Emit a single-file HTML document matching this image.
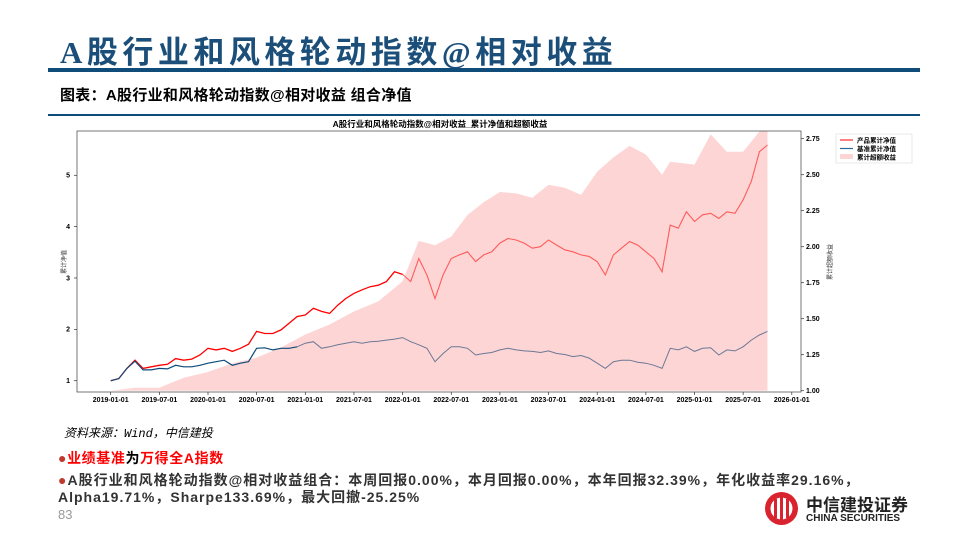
<!DOCTYPE html>
<html><head><meta charset="utf-8">
<style>
body{margin:0;background:#fff;}
#page{position:relative;width:960px;height:540px;overflow:hidden;background:#fff;font-family:"Liberation Sans","Noto Sans CJK SC",sans-serif;}
.abs{position:absolute;white-space:nowrap;}
</style></head>
<body>
<div id="page">
  <div class="abs" style="left:60px;top:27px;font-size:31px;color:#1b4f7a;font-family:'Liberation Serif','Noto Sans CJK SC',sans-serif;font-weight:bold;letter-spacing:4.5px;">A股行业和风格轮动指数@相对收益</div>
  <div class="abs" style="left:48px;top:68px;width:872px;height:4px;background:#0f4c7a;"></div>
  <div class="abs" style="left:60px;top:84px;font-size:15px;font-weight:bold;color:#000;letter-spacing:0.3px;font-family:'Liberation Sans','Noto Sans CJK SC',sans-serif;">图表：A股行业和风格轮动指数@相对收益 组合净值</div>
  <div class="abs" style="left:48px;top:114px;width:872px;height:2px;background:#0f4c7a;"></div>

  <svg class="abs" style="left:0;top:0" width="960" height="540">
    <defs><clipPath id="plotclip"><rect x="77" y="131" width="724" height="261"/></clipPath></defs>
    <text x="440" y="127" text-anchor="middle" font-size="8.5" font-weight="bold" font-family="Liberation Sans, Noto Sans CJK SC, sans-serif">A股行业和风格轮动指数@相对收益_累计净值和超额收益</text>
    <g id="fillg" clip-path="url(#plotclip)"></g>
    <g id="lineg" clip-path="url(#plotclip)"></g>
    <rect x="77" y="131" width="724" height="261" fill="none" stroke="#555" stroke-width="0.8"/>
    <g id="axes" font-family="Liberation Sans, sans-serif" font-size="7" font-weight="bold"></g>
    <text transform="translate(66,262) rotate(-90)" font-size="6" text-anchor="middle" fill="#333" font-family="Liberation Sans, Noto Sans CJK SC, sans-serif">累计净值</text>
    <text transform="translate(832,262) rotate(-90)" font-size="6" text-anchor="middle" fill="#333" font-family="Liberation Sans, Noto Sans CJK SC, sans-serif">累计超额收益</text>
    <g font-family="Liberation Sans, Noto Sans CJK SC, sans-serif" font-size="6.5" font-weight="bold">
      <rect x="836" y="134" width="76" height="29" fill="#fff" stroke="#ddd" stroke-width="0.6"/>
      <g><line x1="840" y1="140" x2="853" y2="140" stroke="#ff8080" stroke-width="2"/><text x="857" y="142.5">产品累计净值</text></g>
      <g><line x1="840" y1="148.5" x2="853" y2="148.5" stroke="#2f6b9a" stroke-width="1.2"/><text x="857" y="151">基准累计净值</text></g>
      <g><rect x="840" y="154" width="13" height="5" fill="#fdd5d5"/><text x="857" y="159.5">累计超额收益</text></g>
    </g>
  </svg>

  <div class="abs" style="left:64px;top:424px;font-size:12px;font-style:italic;color:#000;font-family:'Liberation Mono','Noto Sans CJK SC',monospace;">资料来源：Wind，中信建投</div>
  <div class="abs" style="left:58px;top:448px;font-size:14px;font-weight:bold;letter-spacing:0.6px;"><span style="color:#c0392b">●</span><span style="color:#ff0000">业绩基准</span><span style="color:#000">为</span><span style="color:#ff0000">万得全A指数</span></div>
  <div class="abs" style="left:58px;top:472px;font-size:14px;font-weight:bold;color:#333;line-height:17px;letter-spacing:1px;"><span style="color:#c0392b">●</span>A股行业和风格轮动指数@相对收益组合：本周回报0.00%，本月回报0.00%，本年回报32.39%，年化收益率29.16%，<br>Alpha19.71%，Sharpe133.69%，最大回撤-25.25%</div>
  <div class="abs" style="left:58px;top:507px;font-size:13px;color:#999;">83</div>
  <div class="abs" style="left:764px;top:491px;width:160px;height:36px;">
    <svg width="36" height="36" style="position:absolute;left:0;top:0">
      <circle cx="17.5" cy="17.5" r="16.5" fill="#d9232e"/>
      <circle cx="17.5" cy="17.5" r="11" fill="#fff"/>
      <rect x="10" y="8" width="3" height="19" fill="#d9232e"/><rect x="16" y="6" width="3" height="23" fill="#d9232e"/><rect x="22" y="8" width="3" height="19" fill="#d9232e"/>
    </svg>
    <div class="abs" style="left:42px;top:0px;font-size:17px;font-weight:bold;color:#222;">中信建投证券</div>
    <div class="abs" style="left:42px;top:22px;font-size:10px;font-weight:bold;color:#222;">CHINA SECURITIES</div>
  </div>
</div>
<script>
// monthly dates from 2019-01 to 2025-10
const productValues=[1.00,1.04,1.24,1.40,1.24,1.27,1.30,1.32,1.43,1.40,1.42,1.50,
1.63,1.60,1.63,1.57,1.63,1.71,1.96,1.92,1.92,1.99,2.12,2.25,
2.28,2.41,2.35,2.31,2.47,2.60,2.70,2.77,2.83,2.86,2.93,3.12,
3.07,2.93,3.38,3.06,2.60,3.06,3.38,3.45,3.51,3.32,3.45,3.51,
3.68,3.77,3.74,3.68,3.58,3.61,3.74,3.64,3.55,3.51,3.45,3.42,
3.32,3.06,3.45,3.58,3.71,3.64,3.51,3.38,3.12,4.03,3.97,4.29,
4.10,4.23,4.26,4.16,4.29,4.26,4.52,4.88,5.46,5.59];
const benchmarkValues=[1.00,1.04,1.24,1.38,1.21,1.21,1.24,1.23,1.30,1.27,1.27,1.30,
1.34,1.37,1.40,1.30,1.34,1.37,1.63,1.64,1.60,1.63,1.63,1.66,
1.73,1.76,1.63,1.66,1.70,1.73,1.76,1.73,1.76,1.77,1.79,1.81,
1.84,1.76,1.70,1.63,1.37,1.53,1.66,1.66,1.63,1.50,1.53,1.55,
1.60,1.63,1.60,1.58,1.57,1.55,1.58,1.53,1.51,1.47,1.49,1.44,
1.34,1.24,1.37,1.40,1.40,1.36,1.34,1.30,1.24,1.63,1.60,1.66,
1.57,1.63,1.64,1.50,1.60,1.58,1.66,1.79,1.89,1.96];
const excessMonths=[0,3,6,9,12,15,18,21,24,27,30,33,36,38,40,42,44,46,48,50,52,54,56,58,60,62,64,66,68,69,72,74,76,78,80,81];
const excessValues=[1.00,1.02,1.02,1.09,1.13,1.19,1.23,1.30,1.39,1.46,1.55,1.62,1.76,2.04,2.01,2.07,2.22,2.31,2.38,2.37,2.34,2.43,2.41,2.36,2.52,2.62,2.70,2.64,2.50,2.59,2.57,2.78,2.66,2.66,2.80,2.82];
const xTickLabels=["2019-01-01","2019-07-01","2020-01-01","2020-07-01","2021-01-01","2021-07-01","2022-01-01","2022-07-01","2023-01-01","2023-07-01","2024-01-01","2024-07-01","2025-01-01","2025-07-01","2026-01-01"];
const leftTicks=[1,2,3,4,5];
const rightTicks=[1.00,1.25,1.50,1.75,2.00,2.25,2.50,2.75];

const NS="http://www.w3.org/2000/svg";
function xm(m){return 110.7+m*(97.3/12);}
function yl(v){return 380.7-(v-1)*51.35;}
function yr(v){return 390.7-(v-1)*144;}
function mk(tag,attrs,parent){const e=document.createElementNS(NS,tag);for(const k in attrs)e.setAttribute(k,attrs[k]);parent.appendChild(e);return e;}

const fillg=document.getElementById('fillg'),lineg=document.getElementById('lineg'),axes=document.getElementById('axes');
let d='M'+xm(excessMonths[0])+','+yr(1);
excessMonths.forEach((m,i)=>{d+=' L'+xm(m).toFixed(1)+','+yr(excessValues[i]).toFixed(1);});
d+=' L'+xm(excessMonths[excessMonths.length-1])+','+yr(1)+' Z';
const area=mk('path',{d:d,fill:'#fdd5d5',stroke:'none'},fillg);



function linePath(vals,from,to){let s='';for(let i=from;i<=to&&i<vals.length;i++){s+=(s?' L':'M')+xm(i).toFixed(1)+','+yl(vals[i]).toFixed(1);}return s;}
const prodA=mk('path',{d:linePath(productValues,0,36),fill:'none',stroke:'#ff0000','stroke-width':1.3},lineg);


const prodB=mk('path',{d:linePath(productValues,36,productValues.length-1),fill:'none',stroke:'#ff5a5a','stroke-width':1.1},lineg);


const benA=mk('path',{d:linePath(benchmarkValues,0,23),fill:'none',stroke:'#0d4a7a','stroke-width':1.2},lineg);


const benB=mk('path',{d:linePath(benchmarkValues,23,benchmarkValues.length-1),fill:'none',stroke:'#6b7896','stroke-width':1},lineg);



xTickLabels.forEach((lab,i)=>{const x=xm(i*6);
  mk('line',{x1:x,y1:392,x2:x,y2:395,stroke:'#333','stroke-width':0.7},axes);
  const t=mk('text',{x:x,y:402,'text-anchor':'middle'},axes);t.textContent=lab;
  
  });
leftTicks.forEach(v=>{const y=yl(v);
  mk('line',{x1:74,y1:y,x2:77,y2:y,stroke:'#333','stroke-width':0.7},axes);
  const t=mk('text',{x:70,y:y+2.3,'text-anchor':'end'},axes);t.textContent=v;
  
  });
rightTicks.forEach(v=>{const y=yr(v);
  mk('line',{x1:801,y1:y,x2:804,y2:y,stroke:'#333','stroke-width':0.7},axes);
  const t=mk('text',{x:806,y:y+2.3},axes);t.textContent=v.toFixed(2);
  
  });
</script>
</body></html>
